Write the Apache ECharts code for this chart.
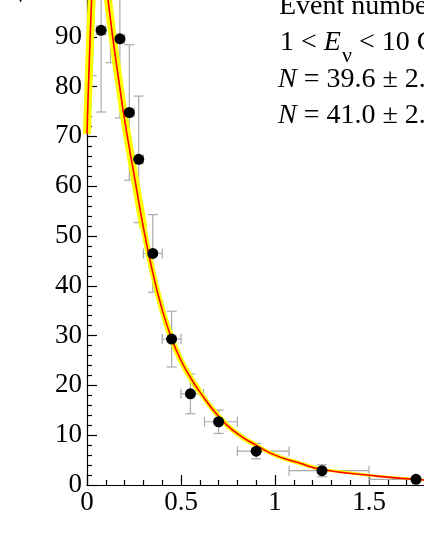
<!DOCTYPE html>
<html>
<head>
<meta charset="utf-8">
<script src="https://cdn.jsdelivr.net/npm/echarts@6/dist/echarts.min.js"></script>
<style>
  html, body { margin: 0; padding: 0; background: #fff; }
  #chart { width: 424px; height: 548px; }
</style>
</head>
<body>
<div id="chart"></div>
<script>
// data points: bin centre, content, vertical error, horizontal extent
const ptX = [0.025, 0.075, 0.125, 0.175, 0.225, 0.275, 0.35, 0.45, 0.55, 0.7, 0.9, 1.25, 1.75];
const ptY = [101, 91.3, 102, 89.6, 74.8, 65.4, 46.5, 29.3, 18.3, 12.7, 6.8, 2.87, 1.14];
const yErr = [18.8, 16.4, 17.2, 15.9, 13.6, 12.7, 7.8, 5.6, 4.0, 2.35, 1.55, 1.2, 0.5];
const xLo = [0, 0.05, 0.1, 0.15, 0.2, 0.25, 0.3, 0.4, 0.5, 0.625, 0.8, 1.075, 1.5];
const xHi = [0.05, 0.1, 0.15, 0.2, 0.25, 0.3, 0.4, 0.5, 0.62, 0.8, 1.075, 1.5, 2.0];

// fitted curve
const curveX = [0, 0.005, 0.01, 0.02, 0.03, 0.05, 0.07, 0.09, 0.112, 0.138, 0.17, 0.2, 0.25, 0.3, 0.35, 0.4, 0.45, 0.5, 0.55, 0.6, 0.7, 0.8, 0.9, 1.0, 1.13, 1.25, 1.5, 1.79, 2.0];
const curveY = [70.5, 77, 82.5, 93, 101, 109, 110, 104, 97.4, 89.6, 81, 73.3, 62.4, 51.7, 42.6, 35.2, 29.4, 25, 21.6, 18.7, 13.8, 10.3, 8.0, 6.0, 4.4, 3.1, 1.95, 1.0, 0.7];

const xTicks = ['0', '0.5', '1', '1.5', '2'];

const serif = 'Liberation Serif';
const chart = echarts.init(document.getElementById('chart'));

const pts = ptX.map((x, i) => [x, ptY[i]]);
const errData = ptX.map((x, i) => [x, ptY[i], yErr[i], xLo[i], xHi[i]]);
const curve = curveX.map((x, i) => [x, curveY[i]]);

// yellow band gets thinner as the curve flattens out
const bandPieces = [[0, 0.3, 8], [0.3, 0.6, 6], [0.6, 0.9, 5], [0.9, 1.25, 4], [1.25, 1.5, 3], [1.5, 1.79, 2.4]];
const bandSeries = bandPieces.map(([a, b, w]) => ({
  type: 'line',
  data: curve.filter(p => p[0] >= a && p[0] <= b),
  smooth: true,
  showSymbol: false,
  lineStyle: { color: '#ffff00', width: w },
  z: 2,
  silent: true
}));

function seg(x1, y1, x2, y2) {
  return { type: 'line', shape: { x1, y1, x2, y2 }, style: { stroke: '#a9a9a9', lineWidth: 1.2 } };
}

function txt(x, y, text, size) {
  return {
    type: 'text', x, y,
    style: {
      text,
      fontFamily: serif,
      fontSize: size,
      fill: '#000',
      verticalAlign: 'middle',
      rich: { i: { fontStyle: 'italic', fontFamily: serif, fontSize: size } }
    }
  };
}

const axisCommon = {
  axisLine: { lineStyle: { color: '#000', width: 1.2 } },
  axisTick: { inside: true, length: 10, lineStyle: { color: '#000', width: 1.2 } },
  minorTick: { show: true, splitNumber: 5, length: 5, lineStyle: { color: '#000', width: 1.2 } },
  splitLine: { show: false },
  axisLabel: { fontFamily: serif, fontSize: 27, color: '#000' }
};

const option = {
  animation: false,
  backgroundColor: '#fff',
  grid: { left: 87, top: -13, width: 376, height: 498, containLabel: false, outerBoundsMode: 'none' },
  xAxis: Object.assign({}, axisCommon, {
    type: 'value',
    min: 0,
    max: 2,
    interval: 0.5,
    axisLabel: Object.assign({}, axisCommon.axisLabel, {
      margin: 4,
      formatter: v => xTicks[Math.round(v / 0.5)]
    })
  }),
  yAxis: Object.assign({}, axisCommon, {
    type: 'value',
    min: 0,
    max: 100,
    interval: 10,
    axisLabel: Object.assign({}, axisCommon.axisLabel, { margin: 5 })
  }),
  series: [
    {
      type: 'custom',
      data: errData,
      encode: { x: 0, y: 1 },
      z: 1,
      renderItem(params, api) {
        const x = api.value(0), y = api.value(1), e = api.value(2);
        const c = api.coord([x, y]);
        const t = api.coord([x, y + e]);
        const b = api.coord([x, y - e]);
        const l = api.coord([api.value(3), y]);
        const r = api.coord([api.value(4), y]);
        const cap = 5;
        return {
          type: 'group',
          children: [
            seg(t[0], t[1], b[0], b[1]),
            seg(t[0] - cap, t[1], t[0] + cap, t[1]),
            seg(b[0] - cap, b[1], b[0] + cap, b[1]),
            seg(l[0], c[1], r[0], c[1]),
            seg(l[0], c[1] - cap, l[0], c[1] + cap),
            seg(r[0], c[1] - cap, r[0], c[1] + cap)
          ]
        };
      }
    },
    ...bandSeries,
    {
      type: 'line',
      data: curve,
      smooth: true,
      showSymbol: false,
      lineStyle: { color: '#ff0000', width: 1.6 },
      z: 3,
      silent: true
    },
    {
      type: 'scatter',
      data: pts,
      symbol: 'circle',
      symbolSize: 11,
      itemStyle: { color: '#000', opacity: 1 },
      z: 4
    }
  ],
  graphic: [
    txt(16, -3, 'ν', 20),
    txt(279, 7, 'Event number distribution', 28),
    txt(280, 43, '1 < {i|E}', 28),
    txt(342, 56, 'ν', 22),
    txt(359, 43, '< 10 GeV', 28),
    txt(278, 80, '{i|N} = 39.6 ± 2.5', 28),
    txt(278, 116, '{i|N} = 41.0 ± 2.6', 28)
  ]
};

chart.setOption(option);
</script>
</body>
</html>
